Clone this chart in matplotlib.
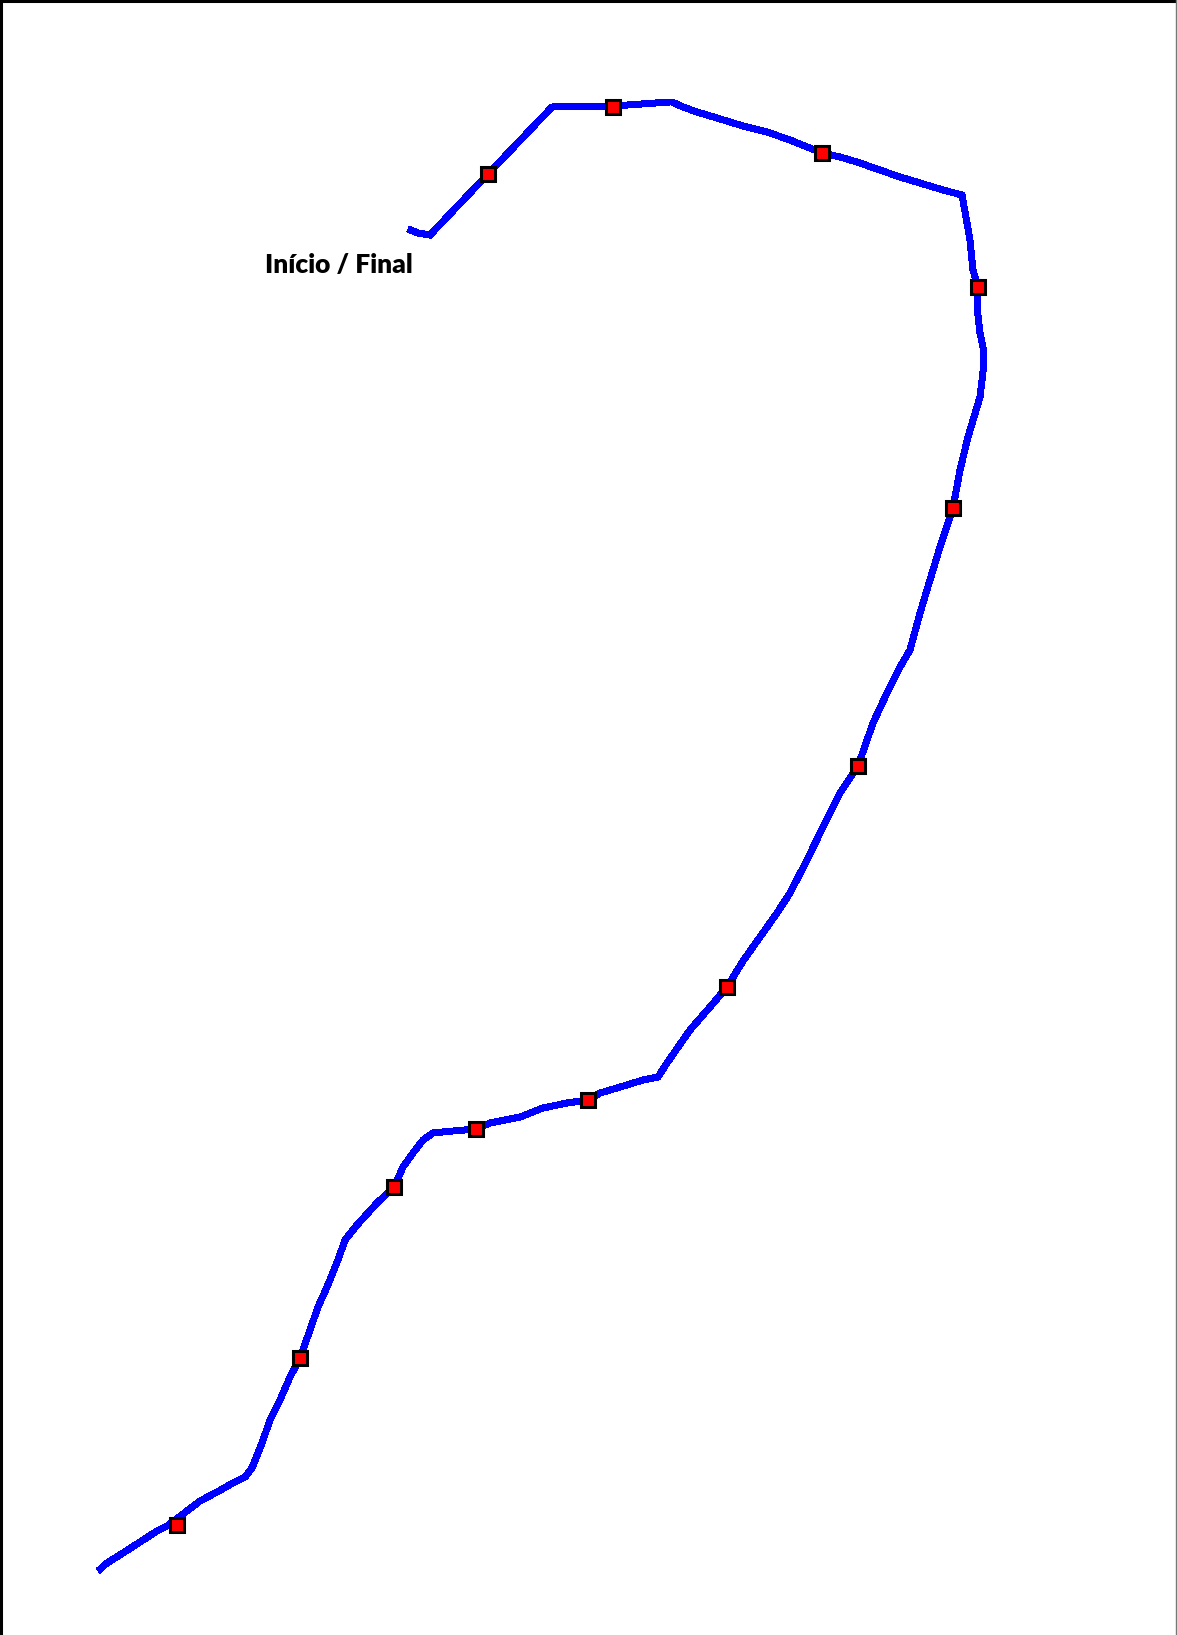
import matplotlib
matplotlib.use("Agg")
import matplotlib.pyplot as plt
from matplotlib.lines import Line2D

# Route traced on the map (pixel coordinates of the original image)
route_x = [408, 418, 430, 488, 552, 613, 670, 672, 683, 697,
           717, 743, 767, 790, 822, 840, 857, 877, 900, 920, 943, 962, 967, 970,
           973, 978, 977, 980, 984, 983, 980, 968, 960, 953, 940, 930, 920, 910,
           900, 887, 873, 858, 840, 823, 807, 790, 777, 760, 743, 727, 710, 690,
           667, 658, 643, 617, 600, 588, 567, 543, 520, 490, 476, 453, 433, 423,
           413, 403, 394, 377, 357, 345, 338, 327, 318, 310, 300, 290, 280, 270,
           262, 252, 245, 233, 217, 200, 183, 167, 157, 140, 123, 107, 98]
route_y = [229, 233, 235, 174, 107, 106, 102, 102, 107, 112,
           118, 126, 132, 140, 153, 157, 162, 169, 177, 183, 190, 195, 223, 240,
           270, 287, 307, 333, 352, 372, 397, 437, 470, 508, 547, 580, 613, 650,
           667, 693, 723, 766, 793, 827, 860, 893, 913, 937, 961, 987, 1007, 1030,
           1063, 1077, 1080, 1088, 1093, 1100, 1103, 1108, 1117, 1123, 1129, 1131, 1133, 1140,
           1153, 1167, 1187, 1203, 1225, 1240, 1260, 1287, 1307, 1330, 1358, 1377, 1400, 1420,
           1443, 1468, 1477, 1483, 1492, 1501, 1514, 1526, 1531, 1542, 1553, 1563, 1571]

# Stops marked along the route
stop_x = [488, 613, 822, 978, 953, 858, 727, 588, 476, 394, 300, 177]
stop_y = [174, 107, 153, 287, 508, 766, 987, 1100, 1129, 1187, 1358, 1525]

label = "Início / Final"

W, H = 1177, 1635
fig = plt.figure(figsize=(W / 100, H / 100), dpi=100)
ax = fig.add_axes([0, 0, 1, 1])
ax.set_xlim(0, W)
ax.set_ylim(H, 0)
ax.axis("off")

ax.plot(route_x, route_y, color="#0000ff", lw=4.3, antialiased=False,
        solid_joinstyle="miter", solid_capstyle="butt", zorder=2)
ax.plot(stop_x, stop_y, ls="none", marker="s", markersize=10,
        markerfacecolor="#ff0000", markeredgecolor="black", markeredgewidth=2.2,
        zorder=3)

ax.text(265, 273, label, fontsize=19, fontweight="heavy", family="Lato",
        ha="left", va="baseline", color="black")

# frame of the original map image
fig.add_artist(Line2D([0.001, 0.001], [0, 1], transform=fig.transFigure,
                      color="black", lw=2.2))
fig.add_artist(Line2D([0, 1], [0.9993, 0.9993], transform=fig.transFigure,
                      color="black", lw=2.2))
fig.add_artist(Line2D([0.9995, 0.9995], [0, 1], transform=fig.transFigure,
                      color="#777777", lw=1.0))

fig.savefig("out.png", dpi=100, facecolor="white")
